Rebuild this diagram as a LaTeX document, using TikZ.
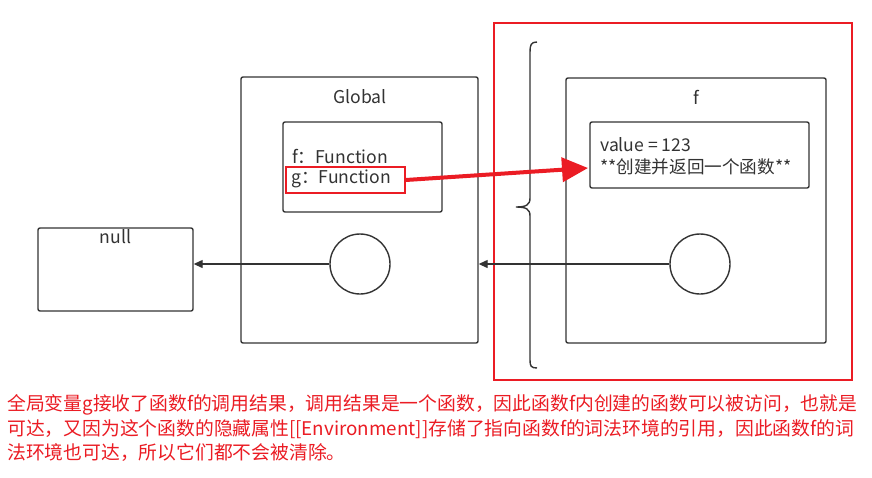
\documentclass[tikz,border=0pt]{standalone}
\usepackage{fontspec}
\setmainfont{Noto Sans CJK SC}
\usetikzlibrary{arrows.meta}
\definecolor{ink}{RGB}{51,51,51}
\definecolor{hred}{RGB}{235,28,36}
\tikzset{
  box/.style={draw=ink, line width=1.4pt, rounded corners=2pt, inner sep=0pt},
  ring/.style={draw=ink, line width=1.4pt, circle, inner sep=0pt, minimum size=60pt},
  lbl/.style={text=ink, font=\fontsize{17.6}{20}\selectfont, inner sep=0pt},
  conn/.style={draw=ink, line width=1.3pt, -{Triangle[length=9pt,width=8pt]}},
  note/.style={text=hred, font=\fontsize{18.8}{22}\selectfont, anchor=west, inner sep=0pt},
}
\begin{document}
\begin{tikzpicture}[x=1pt,y=-1pt]
\useasboundingbox (0,0) rectangle (872,477);
\fill[white] (0,0) rectangle (872,477);
% red frame
\draw[hred, line width=1.6pt] (494,23) rectangle (852,380);
% brace
\draw[ink, line width=1.4pt] (537,42) .. controls (531,42) and (530,45) .. (530,52)
  -- (530,198) .. controls (530,205) and (526,207) .. (516,207)
  .. controls (526,207) and (530,209) .. (530,216)
  -- (530,360) .. controls (530,366) and (531,368) .. (537,368);
% null box
\node[box, minimum width=155pt, minimum height=83pt] (null) at (115.5,269.5) {};
\node[lbl] (nulltxt) at (115.5,237) {null};
% Global
\node[box, minimum width=237pt, minimum height=266pt] (global) at (359.5,210) {};
\node[lbl] (globaltxt) at (360,97) {Global};
\node[box, minimum width=159pt, minimum height=90pt] (gin) at (362.5,167) {};
\node[lbl, anchor=west] (ftxt) at (292,156) {f：Function};
\node[draw=hred, line width=1.6pt, minimum width=119pt, minimum height=26pt, inner sep=0pt] (gbox) at (345.5,180) {};
\node[lbl, anchor=west] (gtxt) at (291,179) {g：Function};
\node[ring] (gcirc) at (360,264) {};
% f
\node[box, minimum width=260pt, minimum height=265pt] (fbox) at (696,210.5) {};
\node[lbl] (fname) at (696,97) {f};
\node[box, minimum width=219pt, minimum height=66pt] (fin) at (699.5,155) {};
\node[lbl, anchor=west] (v1) at (600,145) {value = 123};
\node[lbl, anchor=west] (v2) at (600,167) {**创建并返回一个函数**};
\node[ring] (fcirc) at (700,264) {};
% connectors
\draw[conn] (gcirc.west) -- (gcirc.west -| null.east);
\draw[conn] (fcirc.west) -- (fcirc.west -| global.east);
\coordinate (tip) at (588,168);
\draw[hred, line width=4pt, -{Triangle[length=26pt,width=24pt]}] (gbox.east) -- (tip);
% note
\node[note] (n1) at (7,405) {全局变量g接收了函数f的调用结果，调用结果是一个函数，因此函数f内创建的函数可以被访问，也就是};
\node[note] (n2) at (7,429) {可达，又因为这个函数的隐藏属性[[Environment]]存储了指向函数f的词法环境的引用，因此函数f的词};
\node[note] (n3) at (7,453) {法环境也可达，所以它们都不会被清除。};
\end{tikzpicture}
\end{document}
